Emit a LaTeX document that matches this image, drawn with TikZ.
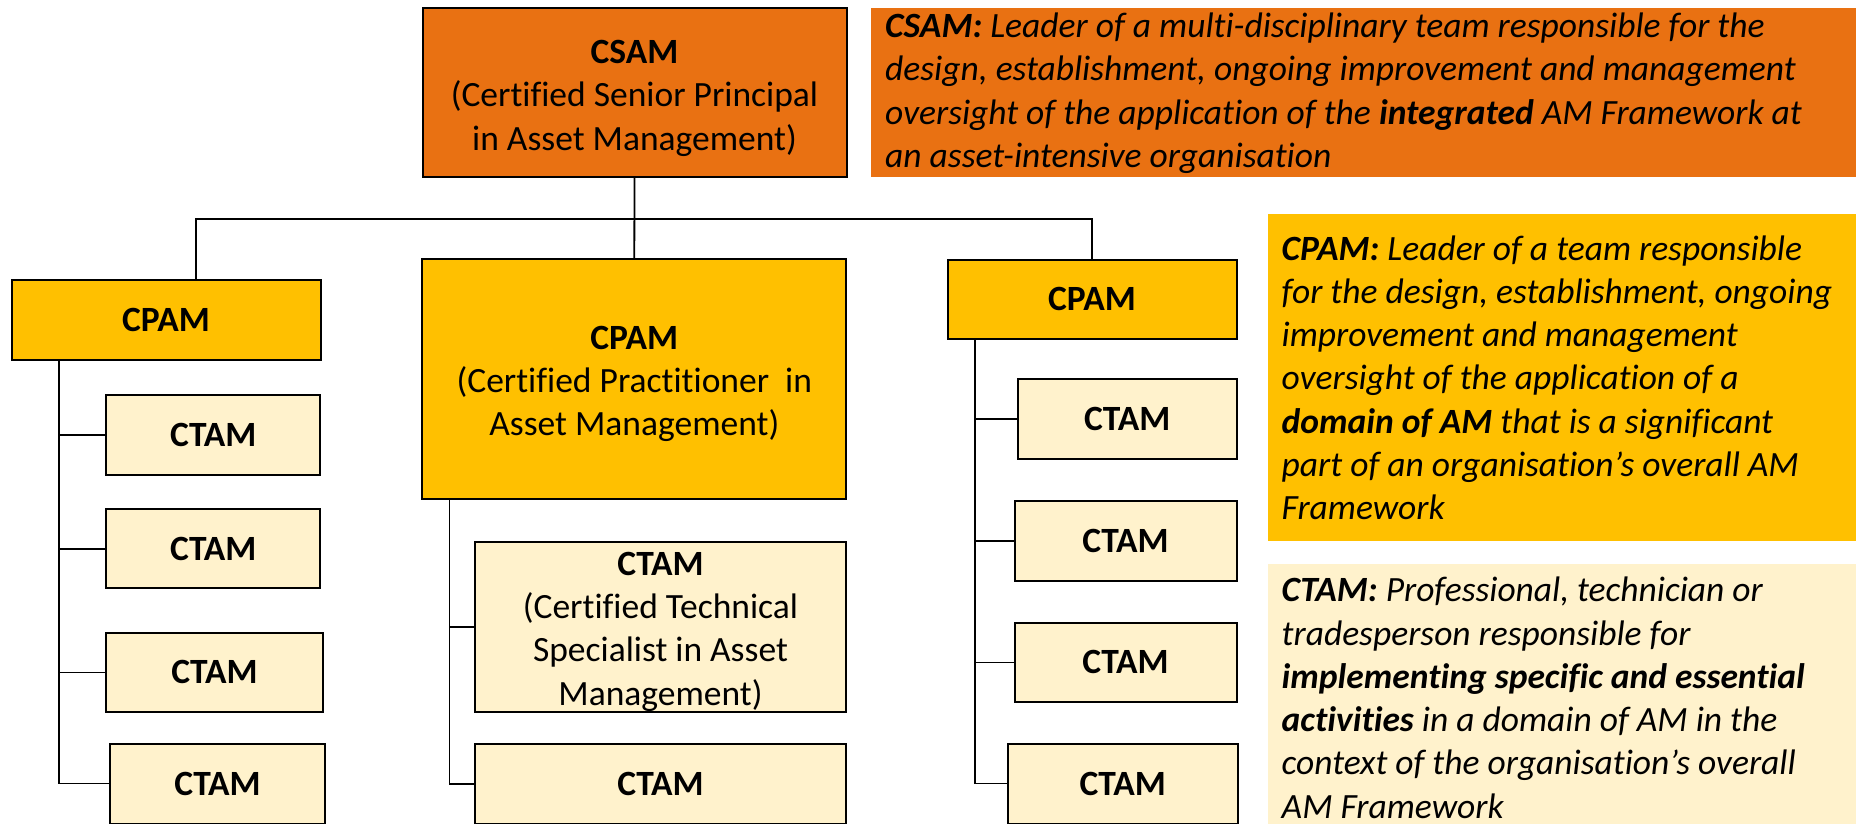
\documentclass[tikz,border=0pt]{standalone}
\usepackage{fontspec}
\setmainfont{Carlito}[Ligatures=CommonOff]
\usetikzlibrary{calc}
\definecolor{csamorange}{HTML}{E97112}
\definecolor{cpamgold}{HTML}{FFC000}
\definecolor{ctamlight}{HTML}{FFF2CC}
\newcommand{\tstrut}[1]{\rule{0pt}{#1}}
\tikzset{
  sz/.style 2 args={minimum width=#1, minimum height=#2},
  box/.style={draw=black, line width=2pt, align=center, inner sep=0pt,
    font=\fontsize{35.5}{43.3}\selectfont},
  csambox/.style={box, fill=csamorange},
  cpambox/.style={box, fill=cpamgold},
  ctambox/.style={box, fill=ctamlight},
  descbg/.style={draw=none, inner sep=0pt, anchor=north west},
  desctext/.style={anchor=base west, align=left, inner sep=0pt,
    font=\fontsize{35.5}{43.3}\selectfont\itshape},
  link/.style={draw=black, line width=1.8pt},
}
\begin{document}
\begin{tikzpicture}[x=1pt,y=-1pt]
\useasboundingbox (0,0) rectangle (1856,824);
\fill[white] (0,0) rectangle (1856,824);

% description panels
\node[descbg, fill=csamorange, sz={985pt}{169pt}] (csamd) at (871,8) {};
\node[descbg, fill=cpamgold, sz={588pt}{327pt}] (cpamd) at (1268,214) {};
\node[descbg, fill=ctamlight, sz={588pt}{262pt}] (ctamd) at (1268,564) {};

% (base anchor = baseline of the last line)
\node[desctext] (csamt) at (885,167.4) {\textbf{CSAM:} Leader of a multi-disciplinary team responsible for the\\
design, establishment, ongoing improvement and management\\
oversight of the application of the \textbf{integrated} AM Framework at\\
an asset-intensive organisation};

\node[desctext] (cpamt) at (1281.5,519.8) {\textbf{CPAM:} Leader of a team responsible\\
for the design, establishment, ongoing\\
improvement and management\\
oversight of the application of a\\
\textbf{domain of AM} that is a significant\\
part of an organisation’s overall AM\\
Framework};

\node[desctext] (ctamt) at (1281.5,818.2) {\textbf{CTAM:} Professional, technician or\\
tradesperson responsible for\\
\textbf{implementing specific and essential}\\
\textbf{activities} in a domain of AM in the\\
context of the organisation’s overall\\
AM Framework};

% boxes
\node[csambox, sz={424pt}{169pt}] (csam) at (634.5,92.5)
  {\tstrut{35pt}\textbf{CSAM}\\(Certified Senior Principal\\in Asset Management)};

\node[cpambox, sz={309pt}{80pt}] (cpamL) at (166,320) {\textbf{CPAM}};
\node[cpambox, sz={424pt}{240pt}] (cpamM) at (634.3,379.2)
  {\tstrut{33pt}\textbf{CPAM}\\(Certified Practitioner\ \ in\\Asset Management)};
\node[cpambox, sz={289pt}{79.3pt}] (cpamR) at (1092,299.4) {\textbf{CPAM}};

\node[ctambox, sz={214pt}{80pt}] (l1) at (213.3,435) {\textbf{CTAM}};
\node[ctambox, sz={214pt}{79.4pt}] (l2) at (213.3,548.7) {\textbf{CTAM}};
\node[ctambox, sz={216.4pt}{79.3pt}] (l3) at (214.4,672.4) {\textbf{CTAM}};
\node[ctambox, sz={215pt}{80pt}] (l4) at (217.5,783.5) {\textbf{CTAM}};

\node[ctambox, sz={371.5pt}{169.6pt}] (m1) at (660.5,627.2)
  {\tstrut{32pt}\textbf{CTAM}\\(Certified Technical\\Specialist in Asset\\Management)};
\node[ctambox, sz={371.5pt}{80pt}] (m2) at (660.5,783.6) {\textbf{CTAM}};

\node[ctambox, sz={219pt}{79.7pt}] (r1) at (1127.2,418.9) {\textbf{CTAM}};
\node[ctambox, sz={222pt}{79.6pt}] (r2) at (1125.6,541) {\textbf{CTAM}};
\node[ctambox, sz={222pt}{79.6pt}] (r3) at (1125.6,662.4) {\textbf{CTAM}};
\node[ctambox, sz={230pt}{80pt}] (r4) at (1122.7,783.5) {\textbf{CTAM}};

% connectors
\coordinate (jL) at (196,219);
\coordinate (jR) at (cpamR.north |- jL);
\draw[link] (csam.south) -- (cpamM.north);
\draw[link] (jL |- cpamL.north) -- (jL) -- (jR) -- (cpamR.north);

\coordinate (tL) at (59,0);
\coordinate (tM) at (449.5,0);
\coordinate (tR) at (975,0);
\foreach \b in {l1,l2,l3,l4}
  \draw[link] (tL |- cpamL.south) |- (\b.west);
\foreach \b in {m1,m2}
  \draw[link] (tM |- cpamM.south) |- (\b.west);
\foreach \b in {r1,r2,r3,r4}
  \draw[link] (tR |- cpamR.south) |- (\b.west);
\end{tikzpicture}
\end{document}
